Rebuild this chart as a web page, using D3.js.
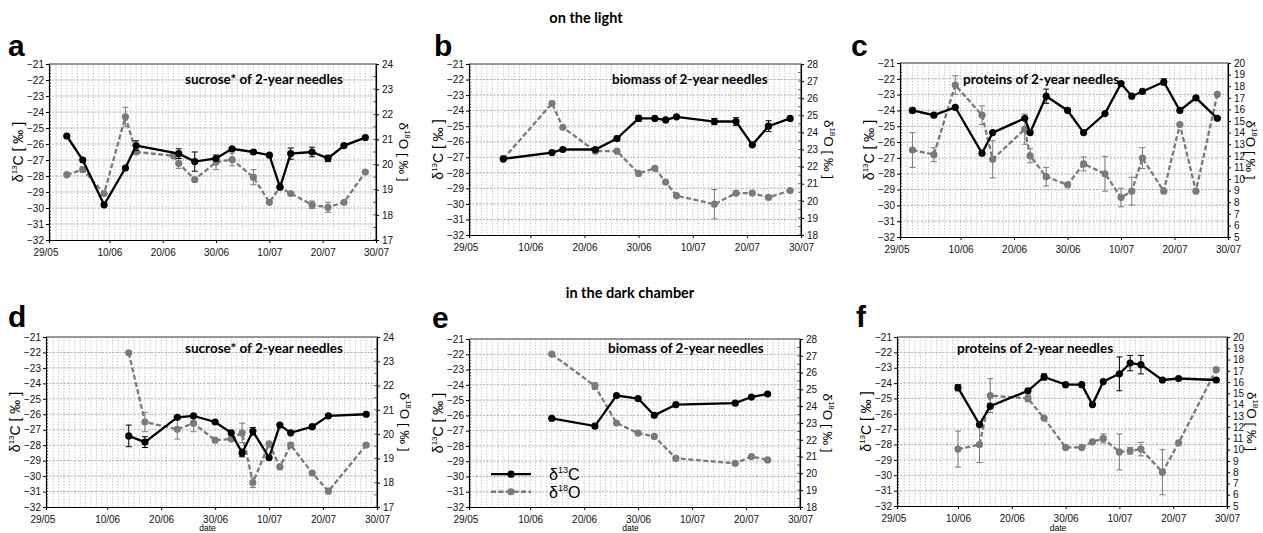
<!DOCTYPE html>
<html>
<head>
<meta charset="utf-8">
<title>d13C and d18O of 2-year needles</title>
<script src="https://d3js.org/d3.v7.min.js"></script>
<style>
  body { margin: 0; background: #fff; }
  svg text { font-family: "Liberation Sans", Arial, sans-serif; }
  .ttl { font-family: Lato, "Open Sans", sans-serif !important; font-weight: 700; }
</style>
</head>
<body>
<div id="chart"></div>
<script>
// ---- data (dates dd/mm, values in per mil, err = half length of error bar) ----
// a: sucrose*, light
var aC_dates = ["02/06","05/06","09/06","13/06","15/06","23/06","26/06","30/06","03/07","07/07","10/07","12/07","14/07","18/07","21/07","24/07","28/07"];
var aC_vals  = [-25.5,-27.0,-29.8,-27.5,-26.1,-26.6,-27.1,-26.9,-26.3,-26.5,-26.7,-28.7,-26.6,-26.5,-26.9,-26.1,-25.6];
var aC_err   = [0,0,0,0,0.3,0.3,0.6,0,0,0.1,0,0,0.35,0.3,0.2,0,0];
var aO_dates = ["02/06","05/06","09/06","13/06","15/06","22/06","23/06","26/06","30/06","03/07","07/07","10/07","12/07","14/07","18/07","21/07","24/07","28/07"];
var aO_vals  = [19.6,19.8,18.85,21.9,20.5,20.35,20.05,19.4,20.1,20.2,19.5,18.5,19.1,18.85,18.4,18.3,18.5,19.7];
var aO_err   = [0,0.1,0,0.38,0.1,0,0.2,0,0.3,0.25,0.3,0,0,0,0.15,0.2,0,0];

// b: biomass, light
var bC_dates = ["05/06","14/06","16/06","22/06","26/06","30/06","03/07","05/07","07/07","14/07","18/07","21/07","24/07","28/07"];
var bC_vals  = [-27.1,-26.7,-26.5,-26.5,-25.8,-24.5,-24.5,-24.6,-24.4,-24.7,-24.7,-26.2,-25.0,-24.5];
var bC_err   = [0,0,0,0,0.15,0.2,0,0,0.1,0.2,0.25,0,0.35,0];
var bO_dates = ["05/06","14/06","16/06","22/06","26/06","30/06","03/07","05/07","07/07","14/07","18/07","21/07","24/07","28/07"];
var bO_vals  = [22.45,25.7,24.3,22.9,22.9,21.6,21.9,21.1,20.3,19.8,20.45,20.45,20.2,20.6];
var bO_err   = [0,0,0,0,0,0,0,0,0,0.86,0.1,0,0,0];

// c: proteins, light
var cC_dates = ["01/06","05/06","09/06","14/06","16/06","22/06","23/06","26/06","30/06","03/07","07/07","10/07","12/07","14/07","18/07","21/07","24/07","28/07"];
var cC_vals  = [-24.0,-24.3,-23.8,-26.7,-25.4,-24.5,-25.4,-23.1,-24.0,-25.4,-24.2,-22.3,-23.1,-22.8,-22.2,-24.0,-23.2,-24.5];
var cC_err   = [0.15,0,0,0,0,0,0,0.45,0,0,0,0,0,0,0.2,0,0,0];
var cO_dates = ["01/06","05/06","09/06","14/06","16/06","22/06","23/06","26/06","30/06","03/07","07/07","10/07","12/07","14/07","18/07","21/07","24/07","28/07"];
var cO_vals  = [12.5,12.1,18.1,15.5,11.7,14.3,12.0,10.2,9.5,11.3,10.45,8.4,8.95,11.8,8.95,14.7,8.95,17.3];
var cO_err   = [1.5,0.6,0.8,0.8,1.6,1.3,0.6,0.8,0,0.6,1.5,0.8,1.2,0.9,0,0,0,0];

// d: sucrose*, dark chamber
var dC_dates = ["14/06","17/06","23/06","26/06","30/06","03/07","05/07","07/07","10/07","12/07","14/07","18/07","21/07","28/07"];
var dC_vals  = [-27.4,-27.8,-26.2,-26.1,-26.5,-27.2,-28.5,-27.1,-28.8,-26.7,-27.2,-26.8,-26.1,-26.0];
var dC_err   = [0.7,0.35,0,0,0,0,0.25,0.25,0,0,0,0,0,0];
var dO_dates = ["14/06","17/06","23/06","26/06","30/06","03/07","05/07","07/07","10/07","12/07","14/07","18/07","21/07","28/07"];
var dO_vals  = [23.35,20.5,20.2,20.45,19.75,19.8,20.05,18.0,19.6,18.65,19.55,18.4,17.65,19.55];
var dO_err   = [0,0.4,0.4,0.35,0,0,0.4,0.2,0,0,0.1,0,0,0];

// e: biomass, dark chamber
var eC_dates = ["14/06","22/06","26/06","30/06","03/07","07/07","18/07","21/07","24/07"];
var eC_vals  = [-26.2,-26.7,-24.7,-24.9,-26.0,-25.3,-25.2,-24.8,-24.6];
var eC_err   = [0,0.15,0,0,0.1,0,0,0,0];
var eO_dates = ["14/06","22/06","26/06","30/06","03/07","07/07","18/07","21/07","24/07"];
var eO_vals  = [27.1,25.2,23.0,22.4,22.2,20.9,20.6,21.0,20.8];
var eO_err   = [0,0.2,0,0,0,0,0,0,0];

// f: proteins, dark chamber
var fC_dates = ["10/06","14/06","16/06","23/06","26/06","30/06","03/07","05/07","07/07","10/07","12/07","14/07","18/07","21/07","28/07"];
var fC_vals  = [-24.3,-26.7,-25.5,-24.5,-23.6,-24.1,-24.1,-25.4,-23.9,-23.4,-22.7,-22.8,-23.8,-23.7,-23.8];
var fC_err   = [0.2,0,0,0,0.2,0,0,0,0,1.1,0.5,0.6,0,0,0];
var fO_dates = ["10/06","14/06","16/06","23/06","26/06","30/06","03/07","05/07","07/07","10/07","12/07","14/07","18/07","21/07","28/07"];
var fO_vals  = [10.05,10.45,14.8,14.55,12.8,10.2,10.2,10.7,11.0,9.8,9.9,10.05,8.0,10.6,17.1];
var fO_err   = [1.6,1.6,1.5,0.3,0,0,0,0,0.4,1.6,0.3,0.6,2.0,0,0];

var xTickLabels = ["29/05","10/06","20/06","30/06","10/07","20/07","30/07"];
var panelTitles = ["sucrose* of 2-year needles","biomass of 2-year needles","proteins of 2-year needles",
                   "sucrose* of 2-year needles","biomass of 2-year needles","proteins of 2-year needles"];
var panelLetters = ["a","b","c","d","e","f"];
var rightDomains = [[17,24],[18,28],[5,20],[17,24],[18,28],[5,20]];
var leftDomain = [-32,-21];
var legendLabels = ["13","18"];

// ---- layout ----
var W = 1263, H = 533;
var boxes = [
  {l:49,  r:376,  t:64,  b:240, tx:185, ty:84,  lx:8,   ly:56,  ro:23},
  {l:469, r:801,  t:64,  b:235, tx:612, ty:84,  lx:434, ly:56,  ro:23},
  {l:900, r:1228, t:63,  b:237, tx:963, ty:84,  lx:851, ly:56,  ro:18},
  {l:46,  r:377,  t:337, b:507, tx:185, ty:353, lx:8,   ly:327, ro:23},
  {l:469, r:800,  t:339, b:507, tx:608, ty:353, lx:432, ly:328, ro:23},
  {l:897, r:1227, t:337, b:506, tx:957, ty:353, lx:856, ly:327, ro:20}
];
var series = [
  [aC_dates,aC_vals,aC_err,aO_dates,aO_vals,aO_err],
  [bC_dates,bC_vals,bC_err,bO_dates,bO_vals,bO_err],
  [cC_dates,cC_vals,cC_err,cO_dates,cO_vals,cO_err],
  [dC_dates,dC_vals,dC_err,dO_dates,dO_vals,dO_err],
  [eC_dates,eC_vals,eC_err,eO_dates,eO_vals,eO_err],
  [fC_dates,fC_vals,fC_err,fO_dates,fO_vals,fO_err]
];

var parse = d3.timeParse("%d/%m");
var svg = d3.select("#chart").append("svg").attr("width", W).attr("height", H);

svg.append("text").attr("class","ttl").attr("x",586).attr("y",23)
  .attr("text-anchor","middle").attr("font-size",14.5).text("on the light");
svg.append("text").attr("class","ttl").attr("x",630).attr("y",298)
  .attr("text-anchor","middle").attr("font-size",14.5).text("in the dark chamber");

var GRAY = "#7a7a7a";

boxes.forEach(function(bx, i){
  var g = svg.append("g");
  var x = d3.scaleTime()
    .domain([new Date(1900,4,29,16), new Date(1900,6,30)])
    .range([bx.l, bx.r]);
  var yL = d3.scaleLinear().domain(leftDomain).range([bx.b, bx.t]);
  var yR = d3.scaleLinear().domain(rightDomains[i]).range([bx.b, bx.t]);

  // daily vertical grid
  var days = d3.timeDay.range(new Date(1900,4,30), new Date(1900,6,30));
  g.append("g").selectAll("line").data(days).enter().append("line")
    .attr("x1", function(d){ return x(d); }).attr("x2", function(d){ return x(d); })
    .attr("y1", bx.t).attr("y2", bx.b)
    .attr("stroke", "#bdbdbd").attr("stroke-width", 0.8).attr("stroke-dasharray", "1.5,1.5");
  // horizontal grid on integers
  g.append("g").selectAll("line").data(d3.range(-31, -21)).enter().append("line")
    .attr("x1", bx.l).attr("x2", bx.r)
    .attr("y1", function(d){ return yL(d); }).attr("y2", function(d){ return yL(d); })
    .attr("stroke", "#9a9a9a").attr("stroke-width", 0.8).attr("stroke-dasharray", "2,1.5");

  // frame top/right
  g.append("path").attr("d", "M"+bx.l+","+bx.t+"H"+bx.r+"V"+bx.b)
    .attr("fill","none").attr("stroke","#777").attr("stroke-width",1.5);

  // left axis
  var la = g.append("g").attr("transform","translate("+bx.l+",0)")
    .call(d3.axisLeft(yL).tickValues(d3.range(-32,-20)).tickSize(3).tickPadding(2).tickFormat(d3.format("d")));
  la.append("g").selectAll("line").data(d3.range(-32,-21,0.2)).enter().append("line")
    .attr("x1",0).attr("x2",2).attr("y1",function(d){return yL(d);}).attr("y2",function(d){return yL(d);})
    .attr("stroke","#000").attr("stroke-width",0.6);
  // right axis
  var rd = rightDomains[i];
  var ra = g.append("g").attr("transform","translate("+bx.r+",0)")
    .call(d3.axisRight(yR).tickValues(d3.range(rd[0], rd[1]+1)).tickSize(3).tickPadding(3).tickFormat(d3.format("d")));
  if (rd[1]-rd[0] < 12) {
    ra.append("g").selectAll("line").data(d3.range(rd[0], rd[1], 0.5)).enter().append("line")
      .attr("x1",0).attr("x2",-3).attr("y1",function(d){return yR(d);}).attr("y2",function(d){return yR(d);})
      .attr("stroke","#000").attr("stroke-width",0.6);
  }
  // bottom axis
  var ba = g.append("g").attr("transform","translate(0,"+bx.b+")")
    .call(d3.axisBottom(x).tickValues(xTickLabels.map(function(s){ return parse(s); })).tickSize(3)
      .tickFormat(d3.timeFormat("%d/%m")));
  ba.selectAll(".tick:first-of-type line").remove();
  [la, ra, ba].forEach(function(a){
    a.selectAll("text").attr("font-size", 10).attr("fill","#111");
    a.select(".domain").attr("stroke","#000").attr("stroke-width",1.2);
  });
  ba.selectAll("text").attr("dy","0.95em");

  // axis titles
  var lt = g.append("text").attr("transform","translate("+(bx.l-26)+","+((bx.t+bx.b)/2)+") rotate(-90)")
    .attr("text-anchor","middle").attr("font-size",14);
  lt.append("tspan").text("δ");
  lt.append("tspan").attr("font-size",8).attr("dy",-6).text("13");
  lt.append("tspan").attr("dy",6).text("C [ ‰ ]");
  var rt = g.append("text").attr("transform","translate("+(bx.r+bx.ro)+","+((bx.t+bx.b)/2)+") rotate(90)")
    .attr("text-anchor","middle").attr("font-size",13.5);
  rt.append("tspan").text("δ");
  rt.append("tspan").attr("font-size",8).attr("dy",-6).text("18");
  rt.append("tspan").attr("dy",6).text("O [ ‰ ]");
  if (i >= 3) {
    g.append("text").attr("x",(bx.l+bx.r)/2-4).attr("y",H-2).attr("text-anchor","middle")
      .attr("font-size",8.5).text("date");
  }

  // panel letter and title
  g.append("text").attr("x",bx.lx).attr("y",bx.ly).attr("font-size",30).attr("font-weight","bold").text(panelLetters[i]);
  g.append("text").attr("class","ttl").attr("x",bx.tx).attr("y",bx.ty).attr("font-size",13.5).text(panelTitles[i]);

  // series
  var s = series[i];
  function rows(dates, vals, errs){
    return dates.map(function(d, k){ return {d: parse(d), v: vals[k], e: errs[k]}; });
  }
  var cRows = rows(s[0], s[1], s[2]);
  var oRows = rows(s[3], s[4], s[5]);

  function draw(rowsData, yS, color, dash){
    var sg = g.append("g");
    sg.append("g").selectAll("path").data(rowsData.filter(function(r){ return r.e > 0; })).enter().append("path")
      .attr("d", function(r){
        var xx = x(r.d), y1 = yS(r.v + r.e), y2 = yS(r.v - r.e);
        return "M"+xx+","+y1+"V"+y2+"M"+(xx-3)+","+y1+"H"+(xx+3)+"M"+(xx-3)+","+y2+"H"+(xx+3);
      })
      .attr("stroke", color).attr("stroke-width", 1).attr("fill","none");
    sg.append("path").datum(rowsData)
      .attr("d", d3.line().x(function(r){ return x(r.d); }).y(function(r){ return yS(r.v); }))
      .attr("fill","none").attr("stroke", color).attr("stroke-width", 2.3)
      .attr("stroke-dasharray", dash ? "5,2.5" : null);
    sg.append("g").selectAll("circle").data(rowsData).enter().append("circle")
      .attr("cx", function(r){ return x(r.d); }).attr("cy", function(r){ return yS(r.v); })
      .attr("r", 3.6).attr("fill", color);
  }
  draw(oRows, yR, GRAY, true);
  draw(cRows, yL, "#000", false);

  // legend in panel e
  if (i == 4) {
    var lg = [["#000", false, -29.85], [GRAY, true, -31.0]];
    lg.forEach(function(l, k){
      var yy = yL(l[2]);
      g.append("line").attr("x1",bx.l+22).attr("x2",bx.l+62).attr("y1",yy).attr("y2",yy)
        .attr("stroke",l[0]).attr("stroke-width",2.3).attr("stroke-dasharray", l[1] ? "5,2.5" : null);
      g.append("circle").attr("cx",bx.l+42).attr("cy",yy).attr("r",3.6).attr("fill",l[0]);
      var t = g.append("text").attr("x",bx.l+80).attr("y",yy+6).attr("font-size",16);
      t.append("tspan").text("δ");
      t.append("tspan").attr("font-size",9).attr("dy",-7).text(legendLabels[k]);
      t.append("tspan").attr("dy",7).text(k == 0 ? "C" : "O");
    });
  }
});
</script>
</body>
</html>
